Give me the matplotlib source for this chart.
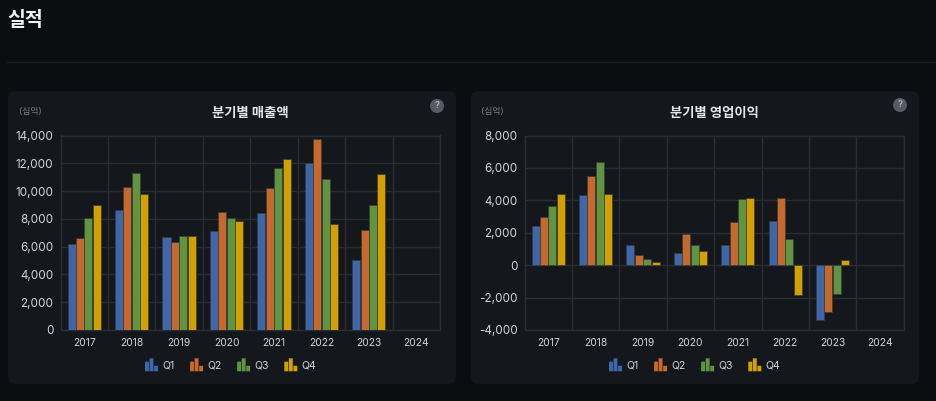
import matplotlib
matplotlib.use('Agg')
import matplotlib.pyplot as plt
import numpy as np
from matplotlib.legend_handler import HandlerBase
from matplotlib.lines import Line2D
from matplotlib.patches import Circle, FancyBboxPatch, Rectangle

plt.rcParams['font.family'] = ['Inter', 'Noto Sans CJK KR', 'DejaVu Sans']

W, H = 936, 401

years = ['2017', '2018', '2019', '2020', '2021', '2022', '2023', '2024']
quarters = ['Q1', 'Q2', 'Q3', 'Q4']
colors = ['#3d66ab', '#c6692e', '#5f9440', '#d2a000']

sales_q1 = [6225, 8630, 6680, 7090, 8440, 12030, 5020, np.nan]
sales_q2 = [6610, 10260, 6350, 8490, 10190, 13720, 7210, np.nan]
sales_q3 = [8030, 11270, 6750, 8030, 11680, 10900, 8970, np.nan]
sales_q4 = [8970, 9800, 6800, 7880, 12290, 7620, 11200, np.nan]

profit_q1 = [2425, 4320, 1275, 760, 1275, 2750, -3395, np.nan]
profit_q2 = [2980, 5510, 600, 1910, 2650, 4130, -2880, np.nan]
profit_q3 = [3680, 6370, 410, 1215, 4070, 1620, -1790, np.nan]
profit_q4 = [4360, 4360, 185, 865, 4130, -1830, 290, np.nan]

BG = '#0b0e11'
PANEL = '#14171c'
GRID = '#2a2d33'
TEXT = '#d3d5d9'


class BarIconHandler(HandlerBase):
    # small three bar glyph, same as the one in the legend of the original
    def create_artists(self, legend, orig_handle, xdescent, ydescent, width, height, fontsize, trans):
        color = orig_handle.patches[0].get_facecolor()
        bw = width * 0.3
        heights = [0.74, 1.0, 0.42]
        out = []
        for i, h in enumerate(heights):
            x = -xdescent + i * width * 0.35
            r = Rectangle((x, -ydescent - 1.5), bw, width * h, facecolor=color,
                          edgecolor='none', transform=trans, snap=False)
            out.append(r)
        return out


def px_axes(fig, x0, y0, x1, y1):
    # pixel box (top-left origin) -> figure fractions
    return fig.add_axes([x0 / W, 1 - y1 / H, (x1 - x0) / W, (y1 - y0) / H])


def draw_panel(bg, x0, y0, x1, y1, title, title_x, help_x, help_y):
    bg.add_patch(FancyBboxPatch((x0 + 8, y0 + 8), x1 - x0 - 16, y1 - y0 - 16,
                                boxstyle='round,pad=8,rounding_size=8',
                                facecolor=PANEL, edgecolor='none'))
    bg.text(x0 + 10.5, y0 + 20.5, '(십억)', color='#777b81', fontsize=6.4, va='center', ha='left')
    bg.text(title_x, y0 + 23, title, color='#e4e5e7',
            fontsize=9.6, fontweight='bold', va='center', ha='center')
    bg.add_patch(Circle((help_x, help_y), 7, facecolor='#575a63', edgecolor='none'))
    bg.text(help_x, help_y - 0.5, '?', color='#a9abb0', fontsize=6.5, fontweight='bold',
            va='center', ha='center')


def draw_chart(fig, box, series, ymin, ymax, ystep, legend_x):
    ax = px_axes(fig, *box)
    ax.set_facecolor('none')
    x = np.arange(len(years)) + 0.5
    step = 0.177
    for i, vals in enumerate(series):
        ax.bar(x + (i - 1.5) * step, vals, width=step * 0.96, color=colors[i],
               edgecolor='#3a3a3a', linewidth=0.5, zorder=3, label=quarters[i])
    ax.set_xlim(0, len(years))
    ax.set_ylim(ymin, ymax)
    ax.set_xticks(np.arange(len(years) + 1))
    ax.set_xticklabels([])
    ax.set_xticks(x, minor=True)
    ax.set_xticklabels(years, minor=True, fontsize=7.4, color=TEXT)
    ticks = np.arange(ymin, ymax + 1, ystep)
    ax.set_yticks(ticks)
    ax.set_yticklabels([f'{t:,}' for t in ticks], fontsize=8.4, color=TEXT)
    ax.tick_params(axis='x', which='both', length=0, pad=6)
    ax.tick_params(axis='y', length=0, pad=5)
    ax.grid(True, color=GRID, linewidth=1, zorder=0)
    for s in ax.spines.values():
        s.set_color(GRID)
        s.set_linewidth(1)
    handles, labels = ax.get_legend_handles_labels()
    leg = ax.legend(handles, labels, loc='center left', ncol=4, frameon=False,
                    bbox_to_anchor=((legend_x - box[0]) / (box[2] - box[0]), -35 / (box[3] - box[1])),
                    handler_map={h: BarIconHandler() for h in handles},
                    handlelength=1.25, handleheight=1.0, handletextpad=0.4,
                    columnspacing=1.5, borderpad=0, borderaxespad=0, fontsize=7.5)
    for t in leg.get_texts():
        t.set_color(TEXT)
    return ax


fig = plt.figure(figsize=(W / 100, H / 100), dpi=100, facecolor=BG)

# overlay in screen pixels for the page furniture
bg = fig.add_axes([0, 0, 1, 1])
bg.set_xlim(0, W)
bg.set_ylim(H, 0)
bg.axis('off')

bg.text(7.5, 20.5, '실적', color='#f2f3f4', fontsize=14, fontweight='bold', va='center', ha='left')
bg.add_line(Line2D([7, W], [62, 62], color='#1a1d21', linewidth=1))

draw_panel(bg, 8, 91, 456, 384, '분기별 매출액', 250, 437, 106)
draw_panel(bg, 471, 91, 919, 384, '분기별 영업이익', 714, 900, 105)

draw_chart(fig, (60.5, 135.5, 440, 330), [sales_q1, sales_q2, sales_q3, sales_q4],
           0, 14000, 2000, 145)
draw_chart(fig, (524.5, 135.5, 903.7, 330), [profit_q1, profit_q2, profit_q3, profit_q4],
           -4000, 8000, 2000, 609)

fig.savefig('out.png', dpi=100, facecolor=BG)
